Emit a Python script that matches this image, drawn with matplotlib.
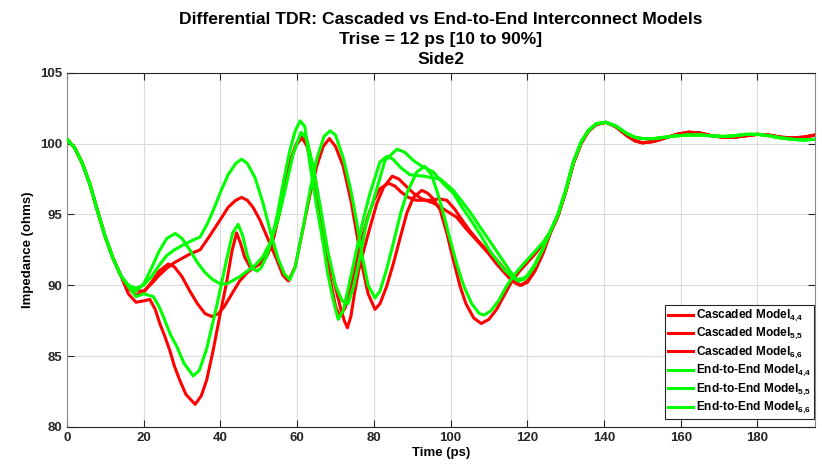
import matplotlib
matplotlib.use("Agg")
import matplotlib.pyplot as plt

plt.rcParams["font.family"] = ["Liberation Sans", "DejaVu Sans"]
plt.rcParams["font.weight"] = "bold"
plt.rcParams["mathtext.fontset"] = "custom"
plt.rcParams["mathtext.rm"] = "Liberation Sans:bold"
plt.rcParams["mathtext.bf"] = "Liberation Sans:bold"

# ---- data (time in ps, impedance in ohms) ----
t_head = [0, 2, 4, 6, 8, 10, 12, 14]
z_head = [100.3, 99.7, 98.6, 97.1, 95.2, 93.4, 91.9, 90.7]

t_tail = [126, 128, 130, 132, 134, 136, 138, 140.5, 143, 146, 148, 150, 153, 156,
          159, 162, 165, 168, 171, 174, 177, 180, 183, 186, 189, 192, 195]
z_tail_red = [93.7, 94.9, 96.6, 98.6, 100.0, 100.9, 101.35, 101.5, 101.2, 100.55,
              100.2, 100.05, 100.15, 100.4, 100.65, 100.8, 100.75, 100.55, 100.45,
              100.45, 100.55, 100.65, 100.6, 100.45, 100.4, 100.45, 100.6]
z_tail_green = [93.8, 95.0, 96.7, 98.7, 100.1, 100.95, 101.4, 101.5, 101.25, 100.7,
                100.45, 100.35, 100.35, 100.45, 100.55, 100.6, 100.6, 100.55, 100.5,
                100.55, 100.65, 100.65, 100.55, 100.4, 100.3, 100.25, 100.3]

# Cascaded Model 4,4 (deep dip near 33 ps)
t_cas44 = [16, 18, 20, 21.6, 23, 24.2, 25.5, 26.8, 28, 29.4, 31, 33.4, 35, 36.4, 38.1,
           39.8, 41.6, 43, 44.2, 45.2, 46.3, 47.7, 49, 50.5, 52, 53.5, 55, 56.5, 58,
           59.5, 61.2, 62.5, 64, 65.5, 67, 68.5, 70, 71.2, 72.5, 74, 75.5, 77, 78.5,
           80, 81.5, 83.8, 85.5, 87, 89, 91, 93, 95, 97, 99, 101, 103, 105, 107, 109,
           111, 113, 115, 117, 118.5, 120, 122, 124]
z_cas44 = [89.4, 88.8, 88.9, 89.0, 88.3, 87.3, 86.4, 85.4, 84.3, 83.3, 82.3, 81.6, 82.2,
           83.3, 85.4, 87.8, 90.2, 92.4, 93.7, 93.0, 92.0, 91.3, 91.3, 91.6, 92.0, 93.0,
           94.7, 96.7, 98.5, 99.8, 100.4, 99.9, 98.2, 95.8, 93.2, 90.6, 88.5, 87.8,
           88.4, 89.9, 91.7, 93.4, 94.9, 96.0, 96.8, 97.2, 97.0, 96.6, 96.2, 96.0, 96.0,
           96.0, 96.1, 96.0, 95.4, 94.6, 93.85, 93.2, 92.6, 92.1, 91.5, 90.8, 90.2,
           90.0, 90.3, 91.1, 92.2]

# Cascaded Model 5,5 (monotonic rise to 46 ps peak)
t_cas55 = [16, 18, 20, 22, 24, 26, 28, 30, 32, 34.7, 37, 39.9, 42, 44, 45.5, 47, 48.5,
           50.3, 52.5, 54.7, 56.3, 57.7, 59.5, 61.6, 63.5, 65.1, 66.8, 68.4, 70, 72,
           74, 75.5, 77, 78.5, 80.3, 81.6, 83.3, 85.1, 87, 88.6, 90.3, 92.5, 94, 95.5,
           97.3, 99, 100.7, 102.5, 104, 106, 108, 110, 112, 114, 116, 118, 120, 122, 124]
z_cas55 = [89.8, 89.6, 89.6, 90.1, 90.7, 91.2, 91.6, 91.9, 92.2, 92.5, 93.4, 94.6, 95.5,
           96.0, 96.2, 96.0, 95.5, 94.6, 93.2, 91.8, 90.7, 90.3, 91.3, 94.1, 96.6, 98.4,
           99.8, 100.35, 99.8, 98.4, 96.0, 93.7, 91.3, 89.4, 88.3, 88.7, 89.9, 91.55,
           93.5, 95.1, 96.2, 96.7, 96.5, 96.1, 95.3, 93.7, 91.8, 89.9, 88.7, 87.7, 87.3,
           87.6, 88.3, 89.3, 90.3, 91.0, 91.6, 92.2, 92.9]

# Cascaded Model 6,6 (small hump at 26 ps, V near 73 ps)
t_cas66 = [16, 18, 20, 22, 24, 26.4, 28, 30, 32, 34, 36, 37.7, 39.5, 41, 43, 45, 47, 49,
           51, 52.5, 54, 55.5, 57, 58.5, 60, 61.4, 63, 64.5, 66.8, 69, 71.2, 72.3,
           73.1, 74, 75, 76, 77.5, 79, 80.8, 82.5, 84.8, 86.5, 88, 90.3, 92.5, 95.5,
           98, 101.6, 104, 107.7, 110, 112, 114, 116, 118, 120, 122, 124]
z_cas66 = [89.8, 89.3, 89.5, 90.2, 91.0, 91.5, 91.3, 90.6, 89.6, 88.7, 88.0, 87.8, 88.0,
           88.5, 89.4, 90.3, 90.9, 91.3, 91.6, 92.3, 93.5, 95.3, 97.3, 99.0, 100.1,
           100.45, 99.6, 97.9, 93.7, 91.0, 88.5, 87.5, 87.0, 87.8, 89.5, 91.0, 92.6,
           94.1, 95.8, 96.9, 97.7, 97.5, 97.1, 96.5, 96.1, 95.8, 95.4, 94.8, 94.0, 92.9,
           92.2, 91.5, 90.9, 90.3, 90.0, 90.2, 91.0, 92.2]

# End-to-End Model 4,4
t_e2e44 = [16, 18, 20, 22.5, 24, 25.1, 27, 28.6, 30.5, 32.9, 34.5, 36.4, 39, 41.6, 43.2,
           44.6, 45.8, 47, 48.3, 49.5, 50.5, 52, 53.5, 55, 56.5, 58, 59.5, 60.8, 62,
           63.4, 65, 66.8, 68, 69.4, 70.7, 72, 73.5, 75.5, 77.3, 79, 81.6, 83.4, 85,
           87, 89.4, 92.9, 97.3, 100.7, 103.3, 105.5, 107.7, 110, 112, 114, 116, 117.3,
           119, 120, 122, 124]
z_e2e44 = [89.9, 89.2, 89.4, 89.2, 88.5, 87.8, 86.5, 85.7, 84.5, 83.6, 84.0, 85.5, 88.5,
           91.8, 93.7, 94.3, 93.5, 92.1, 91.2, 91.0, 91.2, 92.0, 93.4, 95.2, 97.4, 99.4,
           100.9, 101.6, 101.2, 98.4, 95.7, 92.95, 90.8, 88.96, 87.6, 88.2, 90.0, 92.5,
           94.7, 96.5, 98.7, 99.1, 98.9, 98.3, 97.8, 97.7, 97.5, 96.7, 95.8, 95.0, 94.1,
           93.2, 92.4, 91.6, 90.8, 90.4, 90.5, 90.7, 91.5, 92.6]

# End-to-End Model 5,5
t_e2e55 = [16, 18, 20, 22, 24, 26, 28, 30, 32.9, 34.7, 36.5, 38, 39.9, 42, 44, 45.5, 47,
           49, 51, 53, 55, 56.7, 58.1, 59.5, 61.5, 63.5, 65.2, 67, 68.6, 70, 72, 74,
           75.5, 77, 78.5, 80.3, 81.6, 83.3, 85.1, 87, 88.6, 91.2, 93.3, 95, 96.5, 98.1,
           99.8, 101.6, 103.5, 105.5, 107.5, 108.8, 110.5, 112.5, 114.5, 116.5, 118,
           120, 122, 124]
z_e2e55 = [90.0, 89.8, 90.0, 90.6, 91.4, 92.1, 92.5, 92.8, 93.2, 93.4, 94.3, 95.2, 96.5,
           97.8, 98.6, 98.9, 98.6, 97.6, 95.9, 93.8, 91.9, 90.8, 90.4, 91.3, 94.0, 96.9,
           99.0, 100.5, 100.9, 100.6, 99.0, 96.7, 94.5, 92.0, 90.0, 89.1, 89.6, 91.1,
           93.0, 95.1, 96.5, 98.0, 98.4, 97.8, 96.6, 95.1, 93.3, 91.5, 89.9, 88.7, 88.0,
           87.9, 88.2, 88.9, 89.9, 90.7, 91.2, 91.8, 92.4, 93.0]

# End-to-End Model 6,6
t_e2e66 = [16, 18, 20, 22, 24, 26, 28.2, 30, 32, 34, 36, 38, 40, 41.6, 43, 45, 47, 49,
           51, 53, 55, 57, 59, 61, 62.5, 64, 66, 68, 70, 71.7, 73.3, 74.8, 76.4, 78,
           79.9, 82.9, 86, 88, 90.3, 92.5, 95.5, 98, 100.7, 103, 105.5, 107.7, 110.3,
           112, 114, 116, 117.5, 119, 120, 122, 124]
z_e2e66 = [90.0, 89.6, 90.1, 91.2, 92.4, 93.3, 93.66, 93.3, 92.5, 91.6, 90.9, 90.4, 90.1,
           90.1, 90.3, 90.6, 91.0, 91.4, 92.0, 93.0, 94.6, 96.9, 99.3, 100.8, 100.3,
           98.6, 95.6, 92.4, 90.0, 88.9, 88.7, 90.0, 92.0, 94.3, 96.0, 98.8, 99.6, 99.4,
           98.8, 98.4, 98.0, 97.2, 96.5, 95.5, 94.5, 93.6, 92.4, 91.8, 91.1, 90.6, 90.3,
           90.4, 90.6, 91.4, 92.5]

labels = [r"Cascaded Model$_{\mathbf{4{,}4}}$", r"Cascaded Model$_{\mathbf{5{,}5}}$",
          r"Cascaded Model$_{\mathbf{6{,}6}}$", r"End-to-End Model$_{\mathbf{4{,}4}}$",
          r"End-to-End Model$_{\mathbf{5{,}5}}$", r"End-to-End Model$_{\mathbf{6{,}6}}$"]

fig = plt.figure(figsize=(8.22, 4.66), dpi=100)
ax = fig.add_axes([0.0815, 0.0837, 0.91, 0.7603])

series = [(t_cas44, z_cas44, z_tail_red, "#ff0000"),
          (t_cas55, z_cas55, z_tail_red, "#ff0000"),
          (t_cas66, z_cas66, z_tail_red, "#ff0000"),
          (t_e2e44, z_e2e44, z_tail_green, "#00ff00"),
          (t_e2e55, z_e2e55, z_tail_green, "#00ff00"),
          (t_e2e66, z_e2e66, z_tail_green, "#00ff00")]
for (t, z, tail, c), lab in zip(series, labels):
    ax.plot(t_head + t + t_tail, z_head + z + tail, color=c, lw=2.2, label=lab,
            solid_joinstyle="round", zorder=3)

ax.set_xlim(0, 195)
ax.set_ylim(80, 105)
ax.set_xticks(range(0, 181, 20))
ax.set_yticks(range(80, 106, 5))
ax.grid(True, color="#dcdcdc", lw=0.8)
ax.set_axisbelow(True)
ax.tick_params(direction="in", top=True, right=True, length=5, width=0.8,
               labelsize=9.5, colors="#262626")
for lbl in ax.get_xticklabels() + ax.get_yticklabels():
    lbl.set_fontweight("bold")
for s in ["top", "bottom"]:
    ax.spines[s].set_color("#262626")
for s in ["left", "right"]:
    ax.spines[s].set_color("#8a8a8a")

ax.set_xlabel("Time (ps)", fontsize=9.5, fontweight="bold", labelpad=2)
ax.set_ylabel("Impedance (ohms)", fontsize=9.5, fontweight="bold", labelpad=4)
ax.set_title("Differential TDR: Cascaded vs End-to-End Interconnect Models\n"
             "Trise = 12 ps [10 to 90%]\nSide2", fontsize=12.6, fontweight="bold",
             linespacing=1.42, pad=6)

leg = ax.legend(loc="lower right", bbox_to_anchor=(0.9987, 0.0226),
                prop={"weight": "bold", "size": 8.6},
                handlelength=2.1, handletextpad=0.25, labelspacing=0.2,
                borderaxespad=0, borderpad=0.25, fancybox=False, framealpha=1)
leg.get_frame().set_edgecolor("#262626")
leg.get_frame().set_linewidth(0.8)

fig.savefig("out.png", dpi=100)
